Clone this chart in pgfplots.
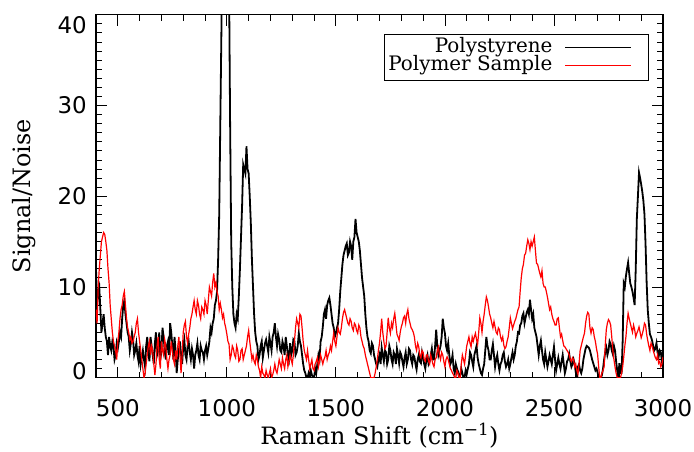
\documentclass[border=0pt]{standalone}
\usepackage{fontspec}
\setmainfont{DejaVu Serif}
\newfontfamily\tickfont{DejaVu Sans}
\usepackage{pgfplots}
\usepackage{pgfplotstable}
\pgfplotsset{compat=1.18}

% Polystyrene signal/noise against Raman shift
\pgfplotstableread{
x y
400 12.0
405 8.0
410 9.5
415 10.0
420 7.5
425 5.0
430 6.0
435 7.0
440 5.5
445 4.5
450 4.0
455 2.5
460 4.5
465 3.5
470 3.0
475 4.0
480 3.5
485 2.0
490 2.5
495 3.8
500 3.2
505 4.0
510 5.0
515 4.5
520 6.5
525 8.0
530 8.5
535 7.0
540 6.0
545 5.0
550 4.5
555 3.0
560 3.8
565 5.0
570 4.2
575 2.5
580 3.0
585 3.8
590 2.5
595 1.8
600 3.5
605 1.5
610 2.3
615 3.0
620 2.0
625 1.2
630 3.5
635 4.5
640 2.8
645 1.8
650 4.5
655 3.5
660 2.5
665 1.5
670 3.8
675 5.0
680 2.5
685 3.0
690 5.0
695 2.0
700 3.0
705 5.5
710 4.5
715 3.0
720 2.0
725 3.5
730 4.0
735 2.5
740 6.0
745 5.0
750 3.5
755 2.0
760 4.5
765 3.0
770 0.5
775 2.0
780 3.0
785 4.0
790 2.5
795 1.5
800 3.5
805 4.2
810 2.5
815 2.0
820 3.5
825 4.0
830 2.8
835 2.0
840 3.2
845 2.5
850 1.0
855 2.5
860 3.0
865 3.8
870 2.5
875 2.0
880 3.5
885 3.0
890 2.8
895 2.0
900 3.0
905 3.5
910 2.5
915 3.2
920 4.0
925 5.5
930 5.0
935 6.0
940 6.5
945 8.0
950 8.5
955 9.5
960 13.0
965 18.0
970 28.0
975 38.0
980 55.0
985 70.0
990 80.0
995 82.0
1000 75.0
1005 60.0
1010 44.0
1015 28.0
1020 15.0
1025 10.0
1030 7.0
1035 6.0
1040 5.5
1045 7.0
1050 6.5
1055 9.0
1060 12.0
1065 15.5
1070 19.0
1075 23.5
1080 23.0
1085 22.5
1090 25.5
1095 23.0
1100 22.5
1105 20.0
1110 17.0
1115 13.0
1120 10.0
1125 7.0
1130 5.0
1135 4.0
1140 3.5
1145 2.0
1150 2.5
1155 3.5
1160 4.0
1165 2.2
1170 3.0
1175 3.8
1180 4.2
1185 3.5
1190 2.8
1195 4.5
1200 3.8
1205 3.0
1210 4.5
1215 5.0
1220 6.0
1225 4.5
1230 3.5
1235 4.8
1240 4.2
1245 3.0
1250 2.8
1255 4.0
1260 3.5
1265 2.5
1270 4.5
1275 3.5
1280 2.5
1285 2.0
1290 3.8
1295 2.5
1300 3.0
1305 4.2
1310 4.0
1315 2.5
1320 2.8
1325 3.5
1330 4.9
1335 4.0
1340 3.5
1345 2.5
1350 1.5
1355 0.8
1360 0.5
1365 0.0
1370 0.0
1375 0.5
1380 0.0
1385 0.8
1390 0.3
1395 0.0
1400 0.0
1405 1.0
1410 0.5
1415 1.5
1420 2.5
1425 2.0
1430 4.0
1435 4.5
1440 5.6
1445 7.0
1450 7.5
1455 6.5
1460 8.0
1465 8.5
1470 8.8
1475 8.0
1480 7.0
1485 6.0
1490 5.5
1495 4.5
1500 4.9
1505 5.5
1510 6.0
1515 7.5
1520 9.5
1525 11.0
1530 12.5
1535 13.5
1540 14.0
1545 14.5
1550 14.8
1555 13.5
1560 13.8
1565 15.0
1570 14.5
1575 13.0
1580 15.0
1585 15.5
1590 17.5
1595 16.0
1600 15.5
1605 15.0
1610 14.0
1615 12.5
1620 11.0
1625 10.0
1630 9.0
1635 7.0
1640 5.5
1645 4.5
1650 4.0
1655 3.0
1660 2.7
1665 3.8
1670 3.5
1675 2.5
1680 2.0
1685 1.5
1690 1.2
1695 2.0
1700 2.5
1705 1.5
1710 3.3
1715 2.5
1720 1.8
1725 3.0
1730 2.8
1735 1.5
1740 2.0
1745 3.5
1750 3.0
1755 2.0
1760 1.5
1765 2.8
1770 2.5
1775 1.5
1780 3.2
1785 2.5
1790 1.6
1795 2.8
1800 2.5
1805 1.8
1810 1.2
1815 2.2
1820 2.8
1825 1.5
1830 2.0
1835 3.2
1840 3.0
1845 2.0
1850 1.5
1855 2.5
1860 2.3
1865 1.5
1870 0.9
1875 2.0
1880 2.5
1885 1.8
1890 1.6
1895 2.8
1900 2.2
1905 1.5
1910 1.0
1915 2.0
1920 2.5
1925 1.5
1930 1.8
1935 2.5
1940 3.2
1945 2.0
1950 2.0
1955 3.5
1960 5.3
1965 3.5
1970 2.5
1975 3.0
1980 3.5
1985 4.5
1990 6.5
1995 5.5
2000 4.9
2005 3.5
2010 3.0
2015 3.8
2020 2.5
2025 1.5
2030 1.8
2035 2.5
2040 1.0
2045 0.5
2050 1.5
2055 1.0
2060 0.7
2065 0.0
2070 0.2
2075 1.0
2080 0.5
2085 0.0
2090 0.0
2095 0.8
2100 0.4
2105 1.0
2110 1.5
2115 2.8
2120 2.5
2125 1.8
2130 1.2
2135 2.5
2140 3.0
2145 3.5
2150 2.2
2155 1.5
2160 1.0
2165 0.5
2170 0.3
2175 1.0
2180 1.5
2185 3.0
2190 4.5
2195 3.5
2200 3.0
2205 2.0
2210 2.0
2215 3.0
2220 3.7
2225 2.5
2230 1.2
2235 2.0
2240 2.5
2245 1.5
2250 0.8
2255 1.5
2260 1.8
2265 2.5
2270 2.8
2275 1.8
2280 1.2
2285 1.5
2290 2.0
2295 1.0
2300 1.5
2305 2.2
2310 2.8
2315 2.0
2320 2.5
2325 3.5
2330 4.0
2335 5.0
2340 4.9
2345 5.8
2350 6.0
2355 6.8
2360 7.1
2365 6.0
2370 6.6
2375 7.2
2380 7.5
2385 7.0
2390 8.6
2395 7.5
2400 6.5
2405 7.0
2410 5.5
2415 5.0
2420 4.5
2425 3.5
2430 2.5
2435 3.5
2440 4.1
2445 3.0
2450 2.0
2455 1.5
2460 2.8
2465 2.0
2470 1.2
2475 1.8
2480 2.5
2485 2.0
2490 1.5
2495 2.5
2500 3.4
2505 2.0
2510 0.8
2515 1.5
2520 2.2
2525 1.5
2530 1.0
2535 1.8
2540 2.5
2545 1.5
2550 0.5
2555 1.0
2560 1.8
2565 2.0
2570 2.6
2575 1.8
2580 1.2
2585 1.5
2590 2.0
2595 1.5
2600 0.6
2605 0.0
2610 1.2
2615 1.5
2620 0.8
2625 0.5
2630 1.0
2635 2.0
2640 2.6
2645 3.2
2650 3.5
2655 3.4
2660 3.3
2665 3.0
2670 2.5
2675 2.0
2680 1.6
2685 1.2
2690 0.8
2695 1.0
2700 0.6
2705 0.0
2710 0.0
2715 0.0
2720 0.3
2725 1.0
2730 2.0
2735 2.8
2740 3.3
2745 2.5
2750 3.0
2755 4.0
2760 3.7
2765 3.0
2770 2.6
2775 3.5
2780 3.0
2785 1.8
2790 0.8
2795 0.0
2800 1.6
2805 0.5
2810 0.5
2815 4.0
2820 10.4
2825 10.0
2830 11.2
2835 12.0
2840 12.7
2845 11.5
2850 10.4
2855 10.0
2860 9.5
2865 8.8
2870 8.0
2875 12.0
2880 17.5
2885 20.0
2890 22.6
2895 22.0
2900 21.3
2905 20.5
2910 19.5
2915 18.0
2920 14.7
2925 10.5
2930 7.5
2935 6.0
2940 4.8
2945 4.5
2950 4.1
2955 3.5
2960 3.0
2965 3.2
2970 3.8
2975 2.8
2980 2.3
2985 3.0
2990 2.8
2995 1.8
3000 2.0
}\polystyrene

% Polymer sample signal/noise against Raman shift
\pgfplotstableread{
x y
400 7.5
405 6.0
410 10.0
415 12.0
420 13.5
425 15.0
430 15.5
435 16.0
440 15.8
445 15.0
450 14.0
455 12.0
460 10.5
465 8.0
470 6.5
475 5.0
480 4.0
485 3.5
490 3.0
495 2.0
500 4.0
505 5.0
510 6.5
515 7.5
520 8.0
525 9.0
530 9.5
535 8.0
540 6.5
545 5.5
550 5.0
555 4.2
560 4.5
565 3.8
570 4.0
575 4.5
580 5.0
585 6.0
590 6.5
595 5.0
600 4.0
605 3.0
610 2.0
615 1.0
620 0.0
625 0.5
630 1.5
635 2.5
640 3.5
645 4.0
650 2.5
655 3.5
660 3.0
665 1.5
670 0.3
675 1.5
680 3.5
685 4.5
690 2.0
695 1.0
700 4.0
705 3.0
710 2.5
715 4.2
720 3.5
725 2.0
730 1.0
735 2.0
740 2.5
745 4.0
750 3.0
755 2.0
760 1.5
765 3.0
770 2.0
775 3.5
780 4.5
785 2.5
790 0.5
795 2.5
800 5.0
805 5.8
810 6.2
815 4.5
820 3.8
825 4.8
830 5.5
835 6.5
840 7.0
845 7.8
850 8.5
855 7.5
860 7.0
865 8.5
870 8.0
875 7.0
880 6.5
885 7.8
890 7.5
895 7.0
900 8.5
905 8.0
910 7.0
915 8.5
920 10.0
925 9.5
930 9.0
935 10.5
940 11.5
945 10.0
950 10.5
955 9.5
960 9.0
965 7.5
970 8.2
975 7.5
980 6.6
985 7.0
990 6.0
995 5.5
1000 4.8
1005 4.0
1010 3.7
1015 2.0
1020 2.5
1025 3.5
1030 3.2
1035 2.5
1040 2.2
1045 3.5
1050 3.0
1055 1.8
1060 2.0
1065 3.0
1070 3.2
1075 2.0
1080 2.5
1085 3.0
1090 3.5
1095 4.5
1100 5.2
1105 4.0
1110 3.0
1115 2.0
1120 2.5
1125 1.8
1130 1.5
1135 2.5
1140 2.0
1145 1.2
1150 0.8
1155 0.0
1160 1.2
1165 0.5
1170 0.3
1175 0.0
1180 0.8
1185 0.3
1190 0.0
1195 0.5
1200 1.0
1205 0.0
1210 0.3
1215 0.8
1220 1.5
1225 0.8
1230 0.5
1235 1.2
1240 2.0
1245 1.5
1250 1.0
1255 2.2
1260 1.5
1265 1.0
1270 2.0
1275 2.5
1280 1.2
1285 1.8
1290 2.5
1295 2.0
1300 1.5
1305 2.5
1310 4.0
1315 5.5
1320 6.5
1325 6.0
1330 5.5
1335 7.0
1340 6.8
1345 5.5
1350 4.0
1355 3.0
1360 2.5
1365 2.0
1370 3.0
1375 2.0
1380 1.0
1385 1.5
1390 2.0
1395 1.0
1400 0.8
1405 1.5
1410 1.8
1415 2.2
1420 1.2
1425 1.8
1430 2.5
1435 2.0
1440 1.5
1445 2.0
1450 2.3
1455 3.0
1460 2.0
1465 2.5
1470 2.8
1475 3.5
1480 3.0
1485 4.0
1490 4.9
1495 4.0
1500 3.5
1505 4.5
1510 5.5
1515 5.0
1520 4.8
1525 5.5
1530 6.5
1535 7.2
1540 7.5
1545 7.0
1550 6.5
1555 6.0
1560 5.8
1565 6.5
1570 6.2
1575 5.5
1580 5.2
1585 6.0
1590 5.8
1595 5.2
1600 4.9
1605 5.8
1610 5.5
1615 4.5
1620 4.0
1625 3.5
1630 3.2
1635 2.5
1640 2.0
1645 1.5
1650 1.0
1655 0.5
1660 0.0
1665 0.0
1670 0.0
1675 0.0
1680 0.5
1685 1.2
1690 2.0
1695 3.0
1700 3.8
1705 5.0
1710 6.5
1715 5.0
1720 4.0
1725 3.2
1730 3.5
1735 5.0
1740 6.6
1745 5.5
1750 4.9
1755 6.0
1760 5.5
1765 6.5
1770 7.1
1775 6.0
1780 4.8
1785 4.5
1790 4.1
1795 5.0
1800 5.6
1805 6.0
1810 6.6
1815 6.8
1820 6.0
1825 7.0
1830 7.5
1835 6.5
1840 6.0
1845 5.5
1850 5.3
1855 5.0
1860 4.5
1865 3.5
1870 3.0
1875 3.8
1880 3.4
1885 2.5
1890 2.2
1895 3.0
1900 2.8
1905 2.0
1910 1.8
1915 2.5
1920 2.5
1925 1.8
1930 1.5
1935 2.5
1940 2.0
1945 1.5
1950 1.2
1955 2.0
1960 2.2
1965 3.0
1970 3.4
1975 2.5
1980 2.0
1985 2.8
1990 2.5
1995 1.8
2000 1.2
2005 2.0
2010 2.3
2015 2.0
2020 1.5
2025 1.0
2030 0.8
2035 0.5
2040 0.3
2045 0.0
2050 0.0
2055 0.8
2060 0.5
2065 0.0
2070 0.0
2075 1.5
2080 2.5
2085 2.0
2090 1.5
2095 2.5
2100 3.5
2105 4.0
2110 4.5
2115 3.8
2120 3.4
2125 4.5
2130 4.0
2135 4.5
2140 4.9
2145 4.2
2150 3.7
2155 5.0
2160 6.6
2165 6.0
2170 5.0
2175 6.2
2180 7.0
2185 8.0
2190 8.9
2195 8.5
2200 7.8
2205 7.0
2210 6.6
2215 6.0
2220 5.5
2225 6.2
2230 5.6
2235 5.0
2240 4.8
2245 5.5
2250 5.3
2255 4.5
2260 4.1
2265 4.5
2270 3.6
2275 3.2
2280 3.4
2285 4.0
2290 4.5
2295 5.5
2300 6.6
2305 6.0
2310 5.4
2315 5.8
2320 6.2
2325 6.5
2330 7.0
2335 7.5
2340 7.8
2345 9.5
2350 11.0
2355 12.0
2360 12.5
2365 13.5
2370 13.7
2375 14.5
2380 15.2
2385 14.8
2390 14.1
2395 15.0
2400 14.5
2405 15.0
2410 15.5
2415 14.0
2420 12.6
2425 12.5
2430 12.0
2435 11.5
2440 11.1
2445 11.8
2450 10.4
2455 10.0
2460 10.0
2465 9.5
2470 8.9
2475 8.2
2480 7.5
2485 7.8
2490 7.0
2495 6.5
2500 6.2
2505 5.8
2510 5.8
2515 6.5
2520 6.6
2525 5.5
2530 4.5
2535 4.8
2540 4.1
2545 3.5
2550 3.4
2555 3.2
2560 3.0
2565 2.8
2570 2.5
2575 2.0
2580 1.8
2585 2.2
2590 2.0
2595 1.2
2600 1.5
2605 0.8
2610 0.4
2615 1.5
2620 3.0
2625 3.5
2630 4.0
2635 4.5
2640 4.9
2645 6.0
2650 6.8
2655 7.2
2660 7.0
2665 5.5
2670 4.9
2675 5.5
2680 5.3
2685 4.5
2690 4.0
2695 3.2
2700 2.6
2705 1.2
2710 0.0
2715 0.0
2720 0.5
2725 0.8
2730 1.2
2735 3.5
2740 5.3
2745 6.0
2750 6.4
2755 6.2
2760 5.8
2765 4.5
2770 3.0
2775 2.0
2780 1.2
2785 0.5
2790 0.0
2795 0.0
2800 0.0
2805 0.0
2810 0.5
2815 1.2
2820 2.3
2825 3.5
2830 4.5
2835 6.0
2840 7.1
2845 6.5
2850 6.0
2855 5.5
2860 5.0
2865 5.8
2870 5.3
2875 4.5
2880 4.9
2885 5.2
2890 5.6
2895 5.0
2900 4.4
2905 4.8
2910 5.3
2915 6.0
2920 5.8
2925 4.8
2930 4.1
2935 3.5
2940 3.0
2945 3.8
2950 3.5
2955 3.0
2960 2.6
2965 2.2
2970 2.0
2975 2.5
2980 1.6
2985 1.8
2990 1.2
2995 1.5
3000 2.3
}\polymer

\begin{document}
\begin{tikzpicture}
\path[use as bounding box] (-96bp,-73.5bp) rectangle (598bp,377.7bp);
\begin{axis}[
    at={(0,0)}, anchor=south west,
    width=567bp, height=363bp, scale only axis,
    xmin=400, xmax=3000, ymin=0, ymax=40,
    xtick={500,1000,...,3000}, ytick={0,10,...,40},
    yticklabels={\raisebox{7bp}{0},10,20,30,\raisebox{-10bp}{40}},
    minor x tick num=4, minor y tick num=9,
    tick align=inside,
    major tick length=11bp, minor tick length=6bp,
    tick style={black, line width=0.8bp},
    axis line style={line width=1.2bp},
    /pgf/number format/assume math mode=true,
    /pgf/number format/1000 sep={},
    ticklabel style={font=\tickfont\fontsize{23}{23}\selectfont, inner sep=0pt,
        text height=17bp, text depth=0bp},
    xticklabel style={anchor=center, yshift=-30bp},
    yticklabel style={anchor=east, xshift=-9bp},
    xlabel={Raman Shift (cm\textsuperscript{−1})},
    ylabel={Signal/Noise},
    label style={font=\fontsize{24}{24}\selectfont},
    xlabel style={at={(axis description cs:0.5,0)}, anchor=center, yshift=-58bp},
    ylabel style={at={(axis description cs:0,0.5)}, anchor=center, yshift=72bp},
    legend style={at={(axis description cs:0.975,0.948)}, anchor=north east,
        draw=black, line width=0.8bp, inner xsep=3bp, inner ysep=5bp,
        font=\fontsize{20}{20}\selectfont,
        nodes={inner sep=1bp, text height=13bp, text depth=3bp}},
    legend cell align=right,
    legend plot pos=right,
    legend image code/.code={\draw[#1, line width=1bp] (12bp,0bp) -- (78bp,0bp);
        \path[draw=none] (0bp,0bp) -- (92bp,0bp);},
]
\addplot[black, line width=1.8bp] table {\polystyrene};
\addplot[red, line width=1.2bp] table {\polymer};
\legend{Polystyrene, Polymer Sample}
\end{axis}
\end{tikzpicture}
\end{document}
